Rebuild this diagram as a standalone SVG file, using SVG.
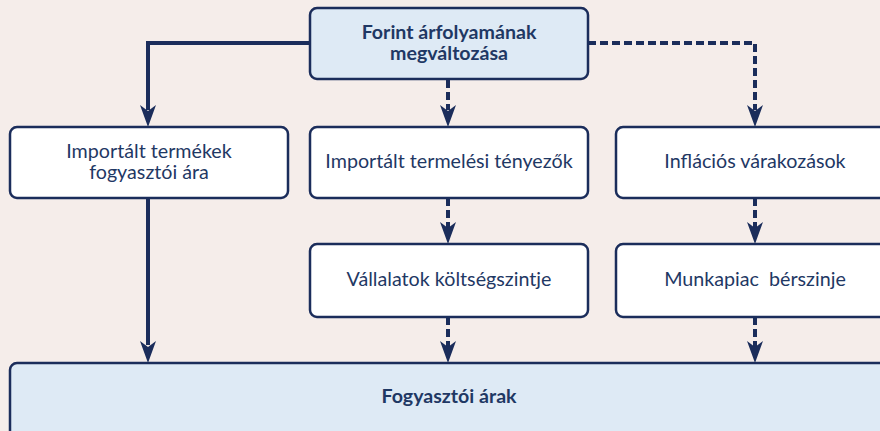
<svg xmlns="http://www.w3.org/2000/svg" width="880" height="431" viewBox="0 0 880 431">
<defs>
<style>
.bg{fill:#f5edea}
.box{fill:#ffffff;stroke:#1b2d5b;stroke-width:2.5}
.hl{fill:#deeaf5;stroke:#1b2d5b;stroke-width:2.5}
.t{font-family:Lato,"Open Sans","Liberation Sans",sans-serif;font-size:19.7px;fill:#1f3864;text-anchor:middle}
.b{font-family:Lato,"Open Sans","Liberation Sans",sans-serif;font-size:19.6px;font-weight:bold;fill:#1f3864;text-anchor:middle}
.solid{fill:none;stroke:#1b2d5b;stroke-width:4}
.dash{fill:none;stroke:#1b2d5b;stroke-width:4;stroke-dasharray:8 4}
.ah{fill:#1b2d5b}
</style>
</defs>
<rect class="bg" x="0" y="0" width="880" height="431"/>
<g id="connectors">
<path class="solid" d="M310,43 H148 V110" />
<path class="ah" d="M140,105 L148,127 L156,105 L148,111 Z"/>
<path class="solid" d="M148,198 V345"/>
<path class="ah" d="M140,341 L148,363 L156,341 L148,347 Z"/>
<path class="dash" d="M448,80 V110"/>
<path class="ah" d="M440,105 L448,127 L456,105 L448,111 Z"/>
<path class="dash" d="M588,43 H755 V110"/>
<path class="ah" d="M747,105 L755,127 L763,105 L755,111 Z"/>
<path class="dash" d="M448,198 V228"/>
<path class="ah" d="M440,222 L448,244 L456,222 L448,228 Z"/>
<path class="dash" d="M755,198 V228"/>
<path class="ah" d="M747,222 L755,244 L763,222 L755,228 Z"/>
<path class="dash" d="M448,317 V347"/>
<path class="ah" d="M440,341 L448,363 L456,341 L448,347 Z"/>
<path class="dash" d="M755,317 V347"/>
<path class="ah" d="M747,341 L755,363 L763,341 L755,347 Z"/>
</g>
<g id="forint">
<rect class="hl" x="310" y="8" width="278" height="71" rx="7"/>
<text class="b" x="449" y="39">Forint árfolyamának</text>
<text class="b" x="449" y="60">megváltozása</text>
</g>
<g id="import-termek">
<rect class="box" x="10" y="127" width="278" height="71" rx="7"/>
<text class="t" x="149" y="158">Importált termékek</text>
<text class="t" x="149" y="179">fogyasztói ára</text>
</g>
<g id="import-tenyezok">
<rect class="box" x="310" y="127" width="278" height="71" rx="7"/>
<text class="t" x="449" y="168">Importált termelési tényezők</text>
</g>
<g id="inflacios">
<rect class="box" x="616" y="127" width="278" height="71" rx="7"/>
<text class="t" x="755" y="168">Inflációs várakozások</text>
</g>
<g id="vallalatok">
<rect class="box" x="310" y="244" width="278" height="73" rx="7"/>
<text class="t" x="449" y="286">Vállalatok költségszintje</text>
</g>
<g id="munkapiac">
<rect class="box" x="616" y="244" width="278" height="73" rx="7"/>
<text class="t" x="755" y="286" xml:space="preserve">Munkapiac  bérszinje</text>
</g>
<g id="fogyasztoi">
<rect class="hl" x="10" y="363" width="878" height="80" rx="7"/>
<text class="b" x="449" y="403">Fogyasztói árak</text>
</g>
</svg>
